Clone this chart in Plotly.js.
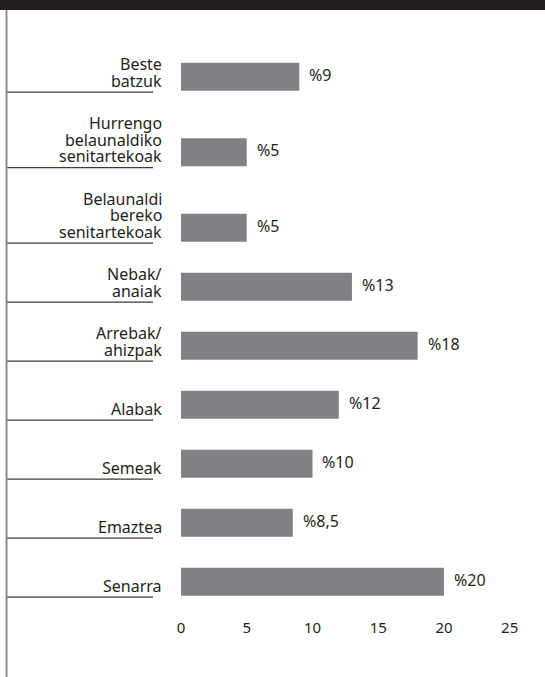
<!DOCTYPE html>
<html>
<head>
<meta charset="utf-8">
<script src="https://cdn.plot.ly/plotly-3.0.1.min.js"></script>
<style>
html,body{margin:0;padding:0;background:#fff;}
#chart{width:545px;height:677px;}
</style>
</head>
<body>
<div id="chart"></div>
<script>
// Data (top to bottom)
var categories = [
  "Beste\nbatzuk",
  "Hurrengo\nbelaunaldiko\nsenitartekoak",
  "Belaunaldi\nbereko\nsenitartekoak",
  "Nebak/\nanaiak",
  "Arrebak/\nahizpak",
  "Alabak",
  "Semeak",
  "Emaztea",
  "Senarra"
];
var values = [9, 5, 5, 13, 18, 12, 10, 8.5, 20];
var tickValues = [0, 5, 10, 15, 20, 25];

// Layout constants
var W = 545, H = 677;
var L = 181, T = 20, PW = 355, PH = 597;
var LINE_PX = 16.5, ROW_PX = 59;
var barW = 28 / ROW_PX;
var textColor = '#231f20';
var barColor = '#808184';
var FONT = 'Noto Sans, Open Sans, sans-serif';

// Row positions: extra room for labels with more than two lines
var pos = [];
categories.forEach(function (c, i) {
  var n = c.split('\n').length;
  if (i === 0) pos.push(0);
  else pos.push(pos[i - 1] + 1 + (LINE_PX / ROW_PX) * Math.max(0, n - 2));
});
var yTop = -(76.7 - T) / ROW_PX;
var yBottom = yTop + PH / ROW_PX;

function pxX(px) { return (px - L) / PW; }
function pxY(py) { return (T + PH - py) / PH; }

var annotations = [];
var shapes = [];

categories.forEach(function (c, i) {
  var lines = c.split('\n');
  var n = lines.length;
  lines.forEach(function (ln, j) {
    annotations.push({
      xref: 'paper', x: 0, xanchor: 'right', xshift: -17,
      yref: 'y', y: pos[i] + barW / 2, yanchor: 'bottom',
      yshift: (n - 1 - j) * LINE_PX - 3,
      text: ln, showarrow: false, align: 'right',
      font: {family: FONT, size: 16, color: textColor}
    });
  });
  // value label
  annotations.push({
    xref: 'x', x: values[i], xanchor: 'left', xshift: 8,
    yref: 'y', y: pos[i], yanchor: 'middle', yshift: 2,
    text: '%' + String(values[i]).replace('.', ','), showarrow: false,
    font: {family: FONT, size: 16, color: textColor}
  });
  // underline below label
  shapes.push({
    type: 'line', xref: 'paper', x0: pxX(6), x1: pxX(153),
    yref: 'y', ysizemode: 'pixel', yanchor: pos[i] + barW / 2, y0: -1.5, y1: -1.5,
    line: {color: '#3a3a3a', width: 1.2}
  });
});

// header bar
shapes.push({
  type: 'rect', xref: 'paper', yref: 'paper',
  x0: pxX(0), x1: pxX(W), y0: pxY(10), y1: pxY(0),
  fillcolor: '#231f20', line: {width: 0}, layer: 'above'
});
// left vertical rule
shapes.push({
  type: 'line', xref: 'paper', yref: 'paper',
  x0: pxX(6.5), x1: pxX(6.5), y0: pxY(H), y1: pxY(10),
  line: {color: '#8c8c8c', width: 2}
});

var trace = {
  type: 'bar', orientation: 'h',
  x: values, y: pos, width: barW,
  marker: {color: barColor, line: {width: 0}},
  hoverinfo: 'none', cliponaxis: false
};

var layout = {
  width: W, height: H,
  margin: {l: L, r: W - L - PW, t: T, b: H - T - PH, pad: 0},
  paper_bgcolor: '#fff', plot_bgcolor: '#fff',
  showlegend: false,
  xaxis: {
    range: [0, 27], tickvals: tickValues, ticktext: tickValues.map(String),
    showgrid: false, zeroline: false, showline: false, ticks: '',
    tickfont: {family: FONT, size: 15, color: textColor},
    ticklabelstandoff: 0, fixedrange: true
  },
  yaxis: {
    range: [yBottom, yTop], showticklabels: false,
    showgrid: false, zeroline: false, showline: false, ticks: '', fixedrange: true
  },
  annotations: annotations,
  shapes: shapes
};

Plotly.newPlot('chart', [trace], layout, {displayModeBar: false, staticPlot: true});
</script>
</body>
</html>
